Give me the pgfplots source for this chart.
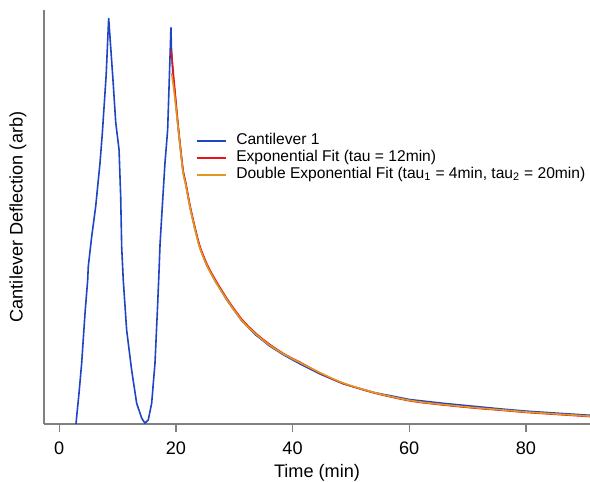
\documentclass[border=0pt]{standalone}
\usepackage{pgfplots}
\pgfplotsset{compat=1.18}
\usepackage{fontspec}
\setmainfont{Liberation Sans}
\definecolor{cblue}{RGB}{31,68,196}
\definecolor{cred}{RGB}{232,20,28}
\definecolor{corange}{RGB}{224,152,32}
\definecolor{axgray}{RGB}{128,128,128}
\begin{document}
\begin{tikzpicture}
\useasboundingbox (-33pt,-43.5pt) rectangle (409.5pt,318pt);
\begin{axis}[
  at={(0,0)}, anchor=south west,
  scale only axis, width=409.5pt, height=310.5pt,
  xmin=-2.62, xmax=91, ymin=0, ymax=1,
  axis x line=bottom, axis y line=left,
  axis line style={-, axgray, line width=1pt},
  xtick={0,20,40,60,80}, ytick=\empty,
  tick align=outside, major tick length=6pt,
  every tick/.style={axgray, line width=1pt},
  /pgf/number format/assume math mode=true,
  x tick label style={font=\fontsize{13.6}{14}\selectfont, inner sep=0pt, anchor=north, yshift=-7.5pt},
  xlabel={Time (min)},
  ylabel={Cantilever Deflection (arb)},
  xlabel style={font=\fontsize{13.6}{14}\selectfont, at={(axis description cs:0.5,0)}, anchor=base, yshift=-40.5pt},
  ylabel style={font=\fontsize{13.6}{14}\selectfont, at={(axis description cs:-0.0476,0.5)}, anchor=center},
  clip=true,
  legend cell align=left,
  legend style={draw=none, fill=none, inner sep=0pt, outer sep=0pt,
    at={(axis description cs:0.2784,0.643)}, anchor=west,
    font=\fontsize{11.7}{12}\selectfont,
    nodes={inner sep=0pt, text height=9pt, text depth=3.75pt}},
  legend image code/.code={\draw[#1] (0pt,0pt) -- (21.75pt,0pt); \path (29pt,0pt);},
]
\addplot[cblue, line width=1.2pt] coordinates {
(2.75,-0.01) (2.86,0.000) (3.38,0.074) (3.84,0.147) (4.41,0.267) (4.87,0.348) (4.97,0.380)
(5.55,0.452) (6.24,0.525) (6.98,0.630) (7.37,0.700) (8.04,0.843) (8.47,0.980)
(9.21,0.831) (9.67,0.730) (10.25,0.662) (10.53,0.549) (10.70,0.428) (10.97,0.348)
(11.55,0.227) (12.41,0.130) (13.27,0.050) (14.13,0.014) (14.69,0.002) (15.26,0.010)
(15.84,0.050) (16.41,0.147) (16.80,0.267) (17.05,0.350) (17.28,0.435) (17.62,0.515)
(18.12,0.630) (18.58,0.710) (19.15,0.958) (19.24,0.903) (19.49,0.843) (19.8,0.80)
(20.45,0.707) (21.2,0.612) (21.7,0.578) (22.4,0.525) (23.2,0.475) (24.1,0.426)
(25.3,0.383) (26.7,0.346) (28.8,0.298) (31.3,0.249) (33.7,0.215) (36.1,0.188)
(38.7,0.165) (41.3,0.145) (45.0,0.119) (48.7,0.097) (54.0,0.076) (60.1,0.059)
(65.8,0.050) (71.6,0.042) (76.0,0.036) (80.1,0.031) (85.5,0.026) (91.0,0.021)
};
\addlegendentry{Cantilever 1}
\addplot[cred, line width=1.2pt, smooth] coordinates {
(19.2,0.903) (19.8,0.81) (20.45,0.712) (21.2,0.616) (21.7,0.582) (22.4,0.529)
(23.2,0.479) (24.1,0.430) (25.3,0.387) (26.7,0.350) (28.8,0.302) (31.3,0.253)
(33.7,0.219) (36.1,0.192) (38.7,0.168) (41.3,0.149) (45.0,0.121) (48.7,0.098)
(54.0,0.075) (60.1,0.056) (65.8,0.046) (71.6,0.038) (76.0,0.033) (80.1,0.028)
(85.5,0.023) (91.0,0.018)
};
\addlegendentry{Exponential Fit (tau = 12min)}
\addplot[corange, line width=1.2pt, smooth] coordinates {
(19.27,0.847) (19.8,0.79) (20.45,0.706) (21.2,0.610) (21.7,0.577) (22.4,0.524)
(23.2,0.474) (24.1,0.425) (25.3,0.383) (26.7,0.346) (28.8,0.299) (31.3,0.250)
(33.7,0.217) (36.1,0.190) (38.7,0.167) (41.3,0.148) (45.0,0.122) (48.7,0.099)
(54.0,0.076) (60.1,0.057) (65.8,0.047) (71.6,0.039) (76.0,0.034) (80.1,0.029)
(85.5,0.024) (91.0,0.019)
};
\addlegendentry{Double Exponential Fit (tau\textsubscript{1} = 4min, tau\textsubscript{2} = 20min)}
\end{axis}
\end{tikzpicture}
\end{document}
